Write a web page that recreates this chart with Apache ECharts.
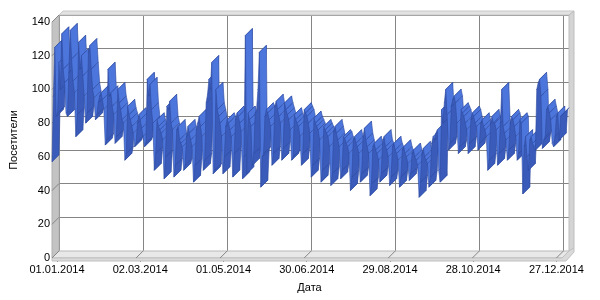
<!DOCTYPE html>
<html><head><meta charset="utf-8">
<script src="https://cdn.jsdelivr.net/npm/echarts@6/dist/echarts.min.js"></script>
<style>html,body{margin:0;padding:0;background:#fff}#c{width:600px;height:300px}</style>
</head><body><div id="c"></div>
<script>
// Daily visitors, 2014
const jan=[57,96,125,84,86,116,100,133,112,104,86,84,110,135,118,105,98,72,85,128,112,120,108,96,80,86,122,126,112,100,95];
const feb=[82,85,92,96,98,94,88,67,70,112,96,98,90,85,68,72,100,92,88,82,80,58,62,90,85,82,78,74];
const mar=[66,68,80,85,82,77,72,66,68,106,96,103,88,80,52,62,82,78,76,74,70,47,60,90,88,93,80,76,48,55,76];
const apr=[78,70,68,66,52,55,72,78,74,70,66,45,55,76,80,84,78,72,52,58,92,97,106,100,116,50,52,100,88,84];
const may=[80,72,50,60,78,82,80,76,72,48,62,82,86,84,80,75,47,60,132,50,86,82,78,55,62,86,88,100,122,42,60];
const jun=[62,84,88,86,82,78,55,62,90,93,88,84,80,58,65,92,88,85,82,76,58,60,85,82,80,78,72,55,62,88];
const jul=[86,84,80,74,48,55,83,80,78,76,70,45,52,78,76,74,72,66,43,50,75,78,74,70,66,47,52,72,71,68,66];
const aug=[62,40,48,70,72,68,66,62,45,50,72,77,70,66,62,37,44,66,68,64,62,58,45,50,70,72,66,64,60,43,48];
const sep=[66,68,64,62,58,42,48,64,66,62,60,56,46,50,62,64,60,58,55,36,45,62,65,60,58,56,42,48,68,72];
const oct=[70,74,76,52,45,88,80,92,100,85,64,68,90,94,96,92,80,62,66,88,86,84,80,76,62,68,82,86,84,80,78];
const nov=[64,68,80,82,78,76,72,52,58,80,84,80,80,76,55,62,80,100,78,74,70,58,64,80,84,82,78,72,58,62];
const dec=[82,80,38,66,72,60,52,70,72,68,66,64,100,104,106,96,65,70,72,88,90,86,82,68,66,72,84,86,70,84,85];
const visitors=[].concat(jan,feb,mar,apr,may,jun,jul,aug,sep,oct,nov,dec);
const yTicks=[0,20,40,60,80,100,120,140];
const labelDays=[0,60,120,180,240,300,360];
const pad=n=>(n<10?'0':'')+n;
const dates=[];
for(let i=0;i<visitors.length;i++){const d=new Date(Date.UTC(2014,0,1+i));dates.push(pad(d.getUTCDate())+'.'+pad(d.getUTCMonth()+1)+'.2014');}

const DX=-7, DY=7;
const LIGHT='#4d76dc', DARK='#3a5bb9', EDGE='#2d4a9f', GRID='#858585';
const FONT='Liberation Sans';

const chart=echarts.init(document.getElementById('c'),null,{renderer:'canvas'});
chart.setOption({
  animation:false,
  backgroundColor:'#fff',
  textStyle:{fontFamily:FONT},
  grid:[
    {left:59,right:31,top:15,bottom:49},
    {left:52,right:38,top:22,bottom:42}
  ],
  graphic:[
    // back wall thickness (top and right)
    {type:'polygon',z:1,shape:{points:[[52,22],[59,15],[569,15],[574,11],[63,11],[55,19]]},style:{fill:'#e2e2e2',stroke:'#c8c8c8',lineWidth:1}},
    {type:'polygon',z:1,shape:{points:[[569,15],[574,11],[574,248],[569,251]]},style:{fill:'#d4d4d4',stroke:'#bdbdbd',lineWidth:1}},
    // left wall
    {type:'polygon',z:1,shape:{points:[[52,22],[59,15],[59,251],[52,258]]},style:{fill:'#c3c3c3',stroke:'#b0b0b0',lineWidth:1}},
    // floor
    {type:'polygon',z:1,shape:{points:[[52,258],[59,251],[569,251],[562,258]]},style:{fill:'#e8e8e8',stroke:'#b8b8b8',lineWidth:1}},
    {type:'polygon',z:1,shape:{points:[[52,258],[562,258],[569,251],[574,248],[574,252],[566,261],[52,261]]},style:{fill:'#dadada',stroke:'#c0c0c0',lineWidth:1}}
  ],
  xAxis:[
    {gridIndex:0,type:'category',data:dates,boundaryGap:false,
     axisLine:{show:false},axisTick:{show:false},axisLabel:{show:false},
     splitLine:{show:true,interval:59,lineStyle:{color:GRID,width:1}}},
    {gridIndex:1,type:'category',data:dates,boundaryGap:false,
     name:'Дата',nameLocation:'middle',nameGap:24,nameTextStyle:{color:'#000',fontSize:11,fontFamily:FONT},
     axisLine:{show:true,lineStyle:{color:'#9a9a9a'}},
     axisTick:{show:true,interval:59,length:4,lineStyle:{color:'#808080'}},
     axisLabel:{show:true,interval:59,color:'#000',fontSize:11,fontFamily:FONT,margin:6},
     splitLine:{show:false}}
  ],
  yAxis:[
    {gridIndex:0,type:'value',min:0,max:140,interval:20,
     axisLine:{show:false},axisTick:{show:false},axisLabel:{show:false},
     splitLine:{show:true,lineStyle:{color:GRID,width:1}}},
    {gridIndex:1,type:'value',min:0,max:140,interval:20,
     name:'Посетители',nameLocation:'middle',nameGap:38,nameRotate:90,
     nameTextStyle:{color:'#000',fontSize:11,fontFamily:FONT},
     axisLine:{show:true,lineStyle:{color:'#8a8a8a'}},
     axisTick:{show:true,length:4,lineStyle:{color:'#808080'}},
     axisLabel:{show:true,color:'#000',fontSize:11,fontFamily:FONT,margin:7},
     splitLine:{show:false}}
  ],
  series:[
    // gridline continuations across the left wall
    {type:'custom',xAxisIndex:0,yAxisIndex:0,z:3,clip:false,silent:true,
     data:yTicks.map(v=>[0,v]),
     renderItem:(p,api)=>{const a=api.coord([0,api.value(1)]);
       return {type:'line',shape:{x1:a[0],y1:a[1],x2:a[0]+DX,y2:a[1]+DY},style:{stroke:GRID,lineWidth:1}};}},
    // gridline continuations across the floor
    {type:'custom',xAxisIndex:0,yAxisIndex:0,z:3,clip:false,silent:true,
     data:labelDays.map(d=>[d,0]),
     renderItem:(p,api)=>{const a=api.coord([api.value(0),0]);
       return {type:'line',shape:{x1:a[0],y1:a[1],x2:a[0]+DX,y2:a[1]+DY},style:{stroke:GRID,lineWidth:1}};}},
    // 3D ribbon line
    {type:'custom',xAxisIndex:0,yAxisIndex:0,z:5,clip:false,
     data:visitors.slice(0,-1).map((v,i)=>[i,v,visitors[i+1]]),
     encode:{x:0,y:1},
     renderItem:(p,api)=>{
       const i=api.value(0);
       const a=api.coord([i,api.value(1)]);
       const b=api.coord([i+1,api.value(2)]);
       const rising=api.value(2)>api.value(1);
       return {type:'polygon',shape:{points:[a,b,[b[0]+DX,b[1]+DY],[a[0]+DX,a[1]+DY]]},
         style:{fill:rising?DARK:LIGHT,stroke:EDGE,lineWidth:0.6}};
     }}
  ]
});
</script>
</body></html>
